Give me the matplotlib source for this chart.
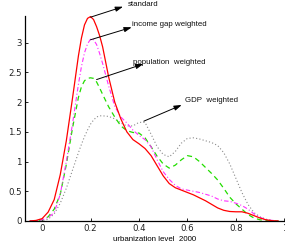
import matplotlib
matplotlib.use("Agg")
import matplotlib.pyplot as plt

# urbanization level grid (shared by all density curves)
urban = [-0.05, -0.025, 0.0, 0.025, 0.05, 0.075, 0.1, 0.125, 0.15, 0.1625,
         0.175, 0.1875, 0.2, 0.2125, 0.225, 0.2375, 0.25, 0.275, 0.3, 0.325,
         0.35, 0.375, 0.4, 0.425, 0.45, 0.475, 0.5, 0.525, 0.55, 0.575,
         0.6, 0.625, 0.65, 0.675, 0.7, 0.725, 0.75, 0.775, 0.8, 0.825,
         0.85, 0.875, 0.9, 0.925, 0.95, 0.975]

standard = [0.0, 0.01, 0.04, 0.15, 0.36, 0.78, 1.35, 2.05, 2.78, 3.08,
            3.3, 3.41, 3.44, 3.39, 3.27, 3.12, 2.93, 2.42, 2.0, 1.72,
            1.5, 1.37, 1.3, 1.22, 1.1, 0.93, 0.76, 0.63, 0.56, 0.52,
            0.48, 0.44, 0.39, 0.34, 0.28, 0.22, 0.18, 0.16, 0.155, 0.155,
            0.13, 0.09, 0.05, 0.02, 0.005, 0.0]

income_gap = [0.0, 0.005, 0.02, 0.06, 0.14, 0.45, 1.0, 1.62, 2.3, 2.6,
              2.83, 2.98, 3.06, 3.05, 2.97, 2.82, 2.65, 2.27, 1.93, 1.75,
              1.65, 1.53, 1.44, 1.37, 1.25, 1.03, 0.83, 0.7, 0.6, 0.54,
              0.52, 0.5, 0.48, 0.45, 0.42, 0.37, 0.34, 0.33, 0.3, 0.26,
              0.2, 0.12, 0.06, 0.025, 0.01, 0.0]

population = [0.0, 0.005, 0.02, 0.07, 0.2, 0.45, 0.95, 1.55, 2.08, 2.26,
              2.36, 2.40, 2.41, 2.40, 2.34, 2.24, 2.13, 1.92, 1.75, 1.6,
              1.52, 1.49, 1.48, 1.40, 1.25, 1.09, 0.96, 0.89, 0.94, 1.03,
              1.1, 1.08, 1.0, 0.9, 0.8, 0.69, 0.55, 0.4, 0.29, 0.2,
              0.11, 0.05, 0.02, 0.01, 0.0, 0.0]

gdp = [0.0, 0.0, 0.0, 0.03, 0.12, 0.3, 0.55, 0.85, 1.15, 1.29,
       1.42, 1.53, 1.63, 1.7, 1.75, 1.77, 1.77, 1.76, 1.72, 1.65,
       1.6, 1.6, 1.66, 1.66, 1.46, 1.25, 1.12, 1.08, 1.17, 1.31,
       1.39, 1.4, 1.38, 1.35, 1.32, 1.27, 1.15, 0.96, 0.72, 0.48,
       0.28, 0.14, 0.07, 0.03, 0.01, 0.0]

fig = plt.figure(figsize=(2.85, 2.48), dpi=100)
ax = fig.add_axes([25 / 285, 27 / 248, 260 / 285, 205 / 248])
plt.rcParams["font.family"] = "Liberation Sans"

ax.plot(urban, gdp, color="#8a8a8a", linestyle=(0, (1, 2)), linewidth=0.8)
ax.plot(urban, population, color="#22dd00", linestyle=(0, (4, 3)), linewidth=0.9)
ax.plot(urban, income_gap, color="#ff30ff", linestyle=(0, (4, 2, 1, 2)), linewidth=0.8)
ax.plot(urban, standard, color="#ff0000", linestyle="-", linewidth=0.9)

ax.set_xlim(-0.0706, 1.003)
ax.set_ylim(0, 3.45)
ax.set_xticks([0, 0.2, 0.4, 0.6, 0.8, 1])
ax.set_xticklabels(["0", "0.2", "0.4", "0.6", "0.8", "1"])
ax.set_yticks([0, 0.5, 1, 1.5, 2, 2.5, 3])
ax.set_yticklabels(["0", "0.5", "1", "1.5", "2", "2.5", "3"])
ax.tick_params(direction="in", length=2.2, width=0.6, labelsize=6.2,
               pad=2.5, colors="black", labelcolor="#222222")
for side in ["top", "right"]:
    ax.spines[side].set_visible(False)
for side in ["left", "bottom"]:
    ax.spines[side].set_linewidth(0.9)
ax.patch.set_alpha(0)
ax.set_xlabel("urbanization level  2000", fontsize=5.7, labelpad=2,
              family="Liberation Sans")

# labels with arrows: tail on the curve (data), head next to the label (figure)
notes = [
    ("standard", (0.2, 3.43), (123 / 285, 1 - 6.7 / 248), (128 / 285, 1 - 5 / 248)),
    ("income gap weighted", (0.2, 3.05), (131.7 / 285, 1 - 27.3 / 248), (132 / 285, 1 - 25 / 248)),
    ("population  weighted", (0.225, 2.38), (143.3 / 285, 1 - 64 / 248), (133 / 285, 1 - 62.3 / 248)),
    ("GDP  weighted", (0.42, 1.68), (181.7 / 285, 1 - 105 / 248), (185 / 285, 1 - 100 / 248)),
]
for label, tail, head, txt in notes:
    ax.annotate("", xy=head, xycoords="figure fraction",
                xytext=tail, textcoords="data",
                arrowprops=dict(arrowstyle="-|>,head_length=0.45,head_width=0.15",
                                color="black", linewidth=0.7,
                                shrinkA=0, shrinkB=0))
    fig.text(txt[0], txt[1], label, fontsize=5.7, ha="left", va="center",
             family="Liberation Sans", color="#111111")

fig.savefig("out.png", dpi=100)
